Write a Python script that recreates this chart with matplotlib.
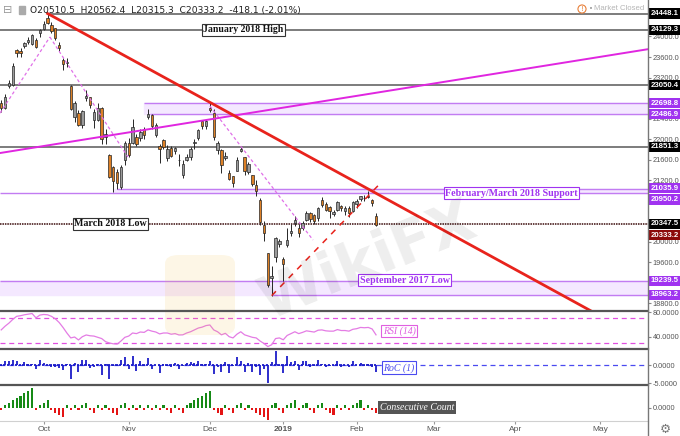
import numpy as np
import matplotlib.pyplot as plt
from matplotlib.lines import Line2D
from matplotlib.patches import Rectangle, FancyBboxPatch

# Nikkei 225 daily candles, bar index 0 = 1 Oct 2018 (trading days only)
dates = ['09-12', '09-13', '09-14', '09-18', '09-19', '09-20', '09-21', '09-25', '09-26', '09-27', '09-28',
         '10-01', '10-02', '10-03', '10-04', '10-05', '10-09', '10-10', '10-11', '10-12', '10-15', '10-16',
         '10-17', '10-18', '10-19', '10-22', '10-23', '10-24', '10-25', '10-26', '10-29', '10-30', '10-31',
         '11-01', '11-02', '11-05', '11-06', '11-07', '11-08', '11-09', '11-12', '11-13', '11-14', '11-15',
         '11-16', '11-19', '11-20', '11-21', '11-22', '11-26', '11-27', '11-28', '11-29', '11-30',
         '12-03', '12-04', '12-05', '12-06', '12-07', '12-10', '12-11', '12-12', '12-13', '12-14', '12-17',
         '12-18', '12-19', '12-20', '12-21', '12-25', '12-26', '12-27', '12-28',
         '01-04', '01-07', '01-08', '01-09', '01-10', '01-11', '01-15', '01-16', '01-17', '01-18', '01-21',
         '01-22', '01-23', '01-24', '01-25', '01-28', '01-29', '01-30', '01-31',
         '02-01', '02-04', '02-05', '02-06', '02-07', '02-08']
opens = [22700, 22610, 23040, 23060, 23730, 23720, 23820, 23900, 23850, 23930, 24060,
         24150, 24370, 24220, 24160, 23830, 23550, 23480, 23030, 22440, 22510, 22280,
         22810, 22820, 22370, 22380, 22600, 22050, 21690, 21450, 21360, 21060, 21590,
         21920, 21930, 22040, 22020, 22200, 22440, 22470, 22080, 21870, 21990, 21640,
         21820, 21760, 21600, 21300, 21600, 21650, 21920, 22020, 22350, 22250,
         22600, 22500, 21780, 21790, 21640, 21340, 21280, 21380, 21770, 21650, 21360,
         21300, 21100, 20810, 20330, 19785, 19300, 19700, 19960,
         19655, 19944, 20160, 20370, 20270, 20260, 20420, 20560, 20520, 20460, 20810,
         20730, 20680, 20540, 20620, 20700, 20600, 20660, 20600,
         20730, 20830, 20860, 20900, 20820, 20510.5]
highs = [22760, 22880, 23160, 23480, 23760, 23770, 23900, 23990, 24040, 23970, 24150,
         24306, 24448.1, 24280, 24170, 23890, 23590, 23590, 23050, 22740, 22570, 22560,
         22960, 22830, 22580, 22700, 22620, 22200, 21700, 21480, 21420, 21500, 21960,
         22020, 22390, 22100, 22200, 22230, 22583, 22480, 22320, 21900, 22010, 21880,
         21870, 21850, 21700, 21600, 21700, 21850, 22000, 22200, 22370, 22400,
         22698.8, 22580, 21960, 21800, 21750, 21400, 21290, 21650, 21870, 21660, 21550,
         21300, 21200, 20850, 20400, 19785, 19530, 20100, 20060,
         19700, 20266, 20347, 20494, 20345, 20400, 20600, 20580, 20540, 20670, 20880,
         20770, 20700, 20620, 20800, 20720, 20700, 20700, 20800,
         20830, 20900, 20920, 20980, 20840, 20562.4]
lows = [22530, 22590, 22990, 23040, 23600, 23600, 23780, 23860, 23830, 23780, 23990,
        24130, 24240, 24060, 23940, 23720, 23350, 23400, 22560, 22330, 22260, 22210,
        22750, 22600, 22220, 22360, 21900, 21900, 21250, 20971, 21030, 21030, 21500,
        21650, 21900, 21870, 21960, 22000, 22400, 22200, 22050, 21540, 21800, 21570,
        21650, 21700, 21480, 21240, 21580, 21600, 21800, 21980, 22200, 22200,
        22520, 21980, 21700, 21340, 21600, 21200, 21060, 21370, 21740, 21300, 21310,
        21090, 20900, 20330, 20006, 19117, 18948, 19600, 19900,
        19241, 19896, 20110, 20300, 20100, 20236, 20400, 20390, 20340, 20400, 20670,
        20600, 20470, 20500, 20600, 20600, 20520, 20480, 20580,
        20650, 20800, 20800, 20860, 20700, 20315.3]
closes = [22604, 22821, 23094, 23420, 23672, 23674, 23869, 23940, 24033, 23796, 24120,
          24245, 24270, 24110, 23975, 23783, 23469, 23506, 22590, 22694, 22271, 22549,
          22841, 22658, 22532, 22614, 22010, 22091, 21268, 21184, 21149, 21457, 21920,
          21687, 22243, 21898, 22147, 22085, 22486, 22250, 22269, 21810, 21846, 21803,
          21680, 21821, 21583, 21507, 21646, 21812, 21952, 22177, 22262, 22351,
          22574, 22036, 21919, 21501, 21678, 21219, 21148, 21602, 21816, 21374, 21506,
          21115, 20987, 20392, 20166, 19155, 19327, 20077, 20014,
          19561, 20038, 20204, 20427, 20163, 20359, 20555, 20442, 20402, 20666, 20719,
          20622, 20593, 20574, 20773, 20649, 20664, 20556, 20773,
          20788, 20883, 20844, 20874, 20751, 20333.2]
prev_close = 22664.7

# RSI(14), one value per bar
rsi = [51, 57, 62, 68, 73, 74, 75.5, 76.5, 77.5, 70.5, 75,
       76, 75.5, 73, 69, 63, 55, 46, 38, 39.5, 34.7, 40,
       42.8, 41.5, 41, 39, 37, 32, 29.8, 28.5, 28, 33, 39,
       41, 46, 45, 47.6, 47, 51, 49, 47.6, 44.5, 46, 46,
       44, 45, 42.8, 43, 46, 48, 51, 54, 55.5, 58,
       59, 51, 48, 43, 45.5, 40, 38, 44, 48, 43, 41,
       39, 38, 33, 29, 24, 27, 37, 38,
       35, 42, 45, 48, 45, 47, 49.5, 48.5, 47.5, 50.5, 51,
       49.5, 49, 49, 51.5, 50, 50, 49, 52,
       53, 55, 54.5, 55, 52.5, 43]

month_pos = [0, 22, 43, 62, 81, 101, 122, 144]
month_lbl = ['Oct', 'Nov', 'Dec', '2019', 'Feb', 'Mar', 'Apr', 'May']
price_ticks = [18800, 19600, 20000, 21200, 21600, 22000, 22400, 23200, 23600, 24000]

# drawn levels / zones / trendlines  (bar index, price)
gray_levels = [24448.1, 24129.3, 23050.4, 21851.3]
zone_nov = (22486.9, 22698.8)
zone_feb = (20950.2, 21035.9)
zone_sep = (18963.2, 19239.5)
march_low = 20347.5
red_trend = [(1, 24448.1), (150, 18306)]
red_dash = [(59, 18948), (87, 21129)]
mag_trend = [(-12, 21720), (157, 23760)]
pink_dash = [[(-11.3, 22507), (1.6, 23990)], [(1.6, 23990), (21.8, 21651)], [(43, 22645), (69.7, 20033)]]

W, H = 680, 436
XL = (-11.31, 156.39)
PURPLE = '#a033f0'
ZONE_LINE = '#c27cf2'
ZONE_FILL = '#f4e8ff'
SANS = 'Liberation Sans'


def fx(px):
    return px / W


def fy(py):
    return 1 - py / H


def panel(top, bottom):
    a = fig.add_axes([0, fy(bottom), 648 / W, (bottom - top) / H])
    a.set_xlim(*XL)
    a.set_xticks([])
    for s in a.spines.values():
        s.set_visible(False)
    a.yaxis.tick_right()
    a.tick_params(axis='y', labelsize=5.3, labelcolor='#555', length=2, color='#888', pad=1.5)
    return a


def fix_fonts(a):
    for t in a.get_yticklabels():
        t.set_family(SANS)


o = np.array(opens, float)
h = np.array(highs, float)
l = np.array(lows, float)
c = np.array(closes, float)
x = np.arange(-11, -11 + len(c))

fig = plt.figure(figsize=(W / 100, H / 100), dpi=100)

# ---------------- main price panel
ax = panel(0, 311)
ax.set_ylim(18649.1, 24711.5)
ax.set_yticks(price_ticks)
ax.set_yticklabels(['%.1f' % v for v in price_ticks])
fix_fonts(ax)

ax.hlines(gray_levels[0], 1, XL[1], color='#666', lw=1.2, zorder=2)
ax.hlines(gray_levels[1:], XL[0], XL[1], color='#666', lw=1.2, zorder=2)

ax.fill_between([26, XL[1]], zone_nov[0], zone_nov[1], color=ZONE_FILL, zorder=1)
ax.hlines(zone_nov[1], 26, XL[1], color=ZONE_LINE, lw=1, zorder=2)
ax.hlines(zone_nov[0], 27.5, XL[1], color=ZONE_LINE, lw=1, zorder=2)

ax.fill_between([18, XL[1]], zone_feb[0], zone_feb[1], color=ZONE_FILL, zorder=1)
ax.hlines(zone_feb[1], 19, XL[1], color=ZONE_LINE, lw=1, zorder=2)
ax.hlines(zone_feb[0], XL[0], XL[1], color=ZONE_LINE, lw=1, zorder=2)

ax.fill_between(XL, zone_sep[0], zone_sep[1], color=ZONE_FILL, zorder=1)
ax.hlines(zone_sep[1], XL[0], XL[1], color=ZONE_LINE, lw=1, zorder=2)
ax.hlines(zone_sep[0], 59, XL[1], color=ZONE_LINE, lw=1, zorder=2)

ax.hlines(march_low, XL[0], XL[1], color='#3a0a0a', lw=1.1, linestyles=(0, (1, 0.6)), zorder=2)

# candles
up = c >= o
ax.vlines(x, l, h, color='#262626', lw=0.7, zorder=3)
body = np.maximum(np.abs(c - o), 10)
ax.bar(x, body, bottom=np.minimum(o, c), width=0.62, color=np.where(up, '#9b9b9b', '#dd8026'),
       edgecolor='#262626', lw=0.5, zorder=4)

for seg in pink_dash:
    ax.plot([p[0] for p in seg], [p[1] for p in seg], color='#e070e8', lw=0.9, ls=(0, (2.5, 2)), zorder=5)
ax.plot([p[0] for p in mag_trend], [p[1] for p in mag_trend], color='#e026e0', lw=1.4, zorder=5)
ax.plot([p[0] for p in red_trend], [p[1] for p in red_trend], color='#e8231c', lw=2.0, zorder=5)
ax.plot([p[0] for p in red_dash], [p[1] for p in red_dash], color='#e8231c', lw=1.1, ls=(0, (4, 4)), zorder=5)

serif = 'Liberation Serif'
ax.text(51.6, 24129.3, 'January 2018 High', family=serif, weight='bold', fontsize=7, color='#111',
        ha='center', va='center', zorder=7,
        bbox=dict(boxstyle='square,pad=0.15', fc='white', ec='#333', lw=0.8))
ax.text(17.3, march_low, 'March 2018 Low', family=serif, weight='bold', fontsize=7.2, color='#111',
        ha='center', va='center', zorder=7,
        bbox=dict(boxstyle='square,pad=0.15', fc='white', ec='#333', lw=0.8))
ax.text(121.1, 20942, 'February/March 2018 Support', family=serif, weight='bold', fontsize=7.2, color=PURPLE,
        ha='center', va='center', zorder=7,
        bbox=dict(boxstyle='square,pad=0.15', fc='white', ec=PURPLE, lw=0.8))
ax.text(93.5, 19247, 'September 2017 Low', family=serif, weight='bold', fontsize=7.2, color=PURPLE,
        ha='center', va='center', zorder=7,
        bbox=dict(boxstyle='square,pad=0.15', fc='white', ec=PURPLE, lw=0.8))

# price tags on the right scale: (value, box colour, shift in px)
tags = [(24448.1, 'black', 0), (24129.3, 'black', 0), (23050.4, 'black', 0),
        (22698.8, PURPLE, 0), (22486.9, PURPLE, 0), (21851.3, 'black', 0),
        (21035.9, PURPLE, -0.5), (20950.2, PURPLE, 6.5), (20347.5, 'black', 0),
        (20333.2, '#8b0a0a', 10.5), (19239.5, PURPLE, 0), (18963.2, PURPLE, 0)]
ytr = ax.get_yaxis_transform()
for val, col, shift in tags:
    ax.annotate('%.1f' % val, xy=(1.0, val), xycoords=ytr, xytext=(2.0, -shift * 0.72),
                textcoords='offset points', ha='left', va='center', fontsize=5.6, weight='bold',
                family=SANS, color='white', zorder=8, annotation_clip=False,
                bbox=dict(boxstyle='square,pad=0.2', fc=col, ec='none'))

# ---------------- RSI panel
ax_rsi = panel(311, 349)
ax_rsi.set_ylim(20.08, 81.62)
ax_rsi.set_yticks([40, 80])
ax_rsi.set_yticklabels(['40.0000', '80.0000'])
fix_fonts(ax_rsi)
ax_rsi.axhline(70, color='#e050e0', lw=0.9, ls=(0, (4, 3)))
ax_rsi.axhline(30, color='#e050e0', lw=0.9, ls=(0, (4, 3)))
ax_rsi.plot(x, rsi, color='#e47ce4', lw=0.9)

# ---------------- RoC(1) panel
roc = np.diff(np.concatenate([[prev_close], c])) / np.concatenate([[prev_close], c[:-1]]) * 100
ax_roc = panel(349, 385)
ax_roc.set_ylim(-5.45, 4.36)
ax_roc.set_yticks([0, -5])
ax_roc.set_yticklabels(['0.0000', '-5.0000'])
fix_fonts(ax_roc)
ax_roc.axhline(0, color='#4a4af0', lw=0.9, ls=(0, (4, 3)))
ax_roc.vlines(x, 0, roc, color='#1c1cc8', lw=1.3)
ax_roc.hlines(np.zeros(len(x)), x - 0.5, x + 0.1, color='#1c1cc8', lw=1.3)

# ---------------- consecutive count panel
count = []
run = 0
last = prev_close
for v in c:
    if v > last:
        run = run + 1 if run > 0 else 1
    elif v < last:
        run = run - 1 if run < 0 else -1
    else:
        run = 0
    count.append(run)
    last = v
count = np.array(count)
ax_cnt = panel(385, 421)
ax_cnt.set_ylim(-5.47, 9.34)
ax_cnt.set_yticks([0])
ax_cnt.set_yticklabels(['0.0000'])
fix_fonts(ax_cnt)
ax_cnt.bar(x, count, width=0.55, color=np.where(count > 0, '#168a16', '#e41414'))
ax_cnt.set_xticks(month_pos)
ax_cnt.set_xticklabels(month_lbl)
ax_cnt.tick_params(axis='x', labelsize=6, labelcolor='#555', length=2.5, color='#999', pad=1)
for t in ax_cnt.get_xticklabels():
    t.set_family(SANS)
    if t.get_text() == '2019':
        t.set_weight('bold')

# panel separators and right scale line
for py in [311, 349, 385]:
    fig.add_artist(Line2D([0, 648 / W], [fy(py), fy(py)], color='#555', lw=1.6))
fig.add_artist(Line2D([0, 648 / W], [fy(421), fy(421)], color='#d0d0d0', lw=0.8))
fig.add_artist(Line2D([648 / W, 648 / W], [0, 1], color='#777', lw=1))

# indicator captions
fig.text(fx(399), fy(331), 'RSI (14)', family=serif, style='italic', fontsize=7, color='#e060e0',
         ha='center', va='center', bbox=dict(boxstyle='square,pad=0.15', fc='white', ec='#e060e0', lw=0.8))
fig.text(fx(399), fy(367.7), 'RoC (1)', family=serif, style='italic', fontsize=7, color='#4a4af0',
         ha='center', va='center', bbox=dict(boxstyle='square,pad=0.15', fc='white', ec='#4a4af0', lw=0.8))
fig.text(fx(417), fy(407.7), 'Consecutive Count', family=serif, style='italic', fontsize=7, color='white',
         ha='center', va='center', bbox=dict(boxstyle='square,pad=0.2', fc='#555', ec='none'))

# header
fig.text(fx(30), fy(10), 'O20510.5  H20562.4  L20315.3  C20333.2  -418.1 (-2.01%)', fontsize=6.6,
         color='#222', ha='left', va='center')
fig.text(fx(8), fy(10), '\u229f', fontsize=8, color='#999', ha='center', va='center')
fig.add_artist(Rectangle((fx(19), fy(14)), 6 / W, 8 / H, color='#aaa', transform=fig.transFigure))
fig.text(fx(644), fy(9), 'Market Closed', fontsize=5.6, family=SANS, color='#b5b5b5', ha='right', va='center')
fig.text(fx(591), fy(9), '\u2022', fontsize=5, color='#999', ha='center', va='center')
fig.text(fx(582), fy(9), '!', fontsize=5, color='#e8803a', ha='center', va='center',
         bbox=dict(boxstyle='circle,pad=0.15', fc='white', ec='#e8803a', lw=0.8))
fig.text(fx(665), fy(429), '\u2699', fontsize=9, color='#777', ha='center', va='center')

# watermark
fig.add_artist(FancyBboxPatch((fx(165), fy(335)), 70 / W, 80 / H, boxstyle='round,pad=0,rounding_size=0.02',
                              fc='#f5c040', ec='none', alpha=0.13, transform=fig.transFigure))
fig.text(fx(368), fy(262), 'WikiFX', fontsize=42, weight='bold', color='#000', alpha=0.07,
         rotation=22, ha='center', va='center')

fig.savefig('out.png', dpi=100)
